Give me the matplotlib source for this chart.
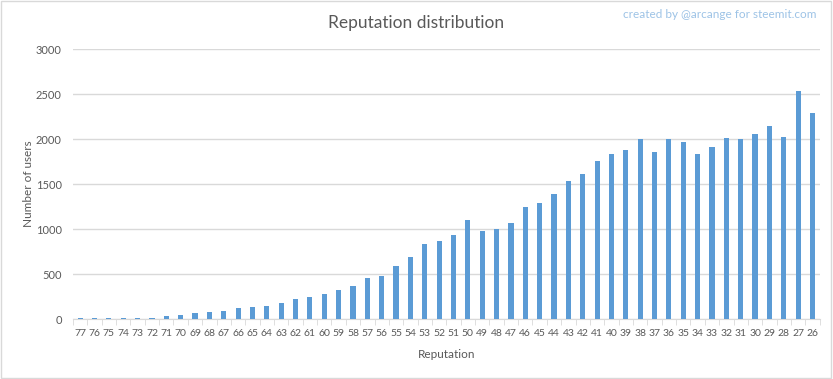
import matplotlib
matplotlib.use("Agg")
import matplotlib.pyplot as plt
from matplotlib.patches import Rectangle
from matplotlib.ticker import FixedLocator

plt.rcParams['font.family'] = ['Lato', 'DejaVu Sans']

reputation = list(range(77, 25, -1))
users = [15, 15, 15, 15, 12, 12, 33, 44, 70, 78, 89, 122, 133, 144, 178, 222,
         244, 278, 322, 367, 456, 478, 589, 689, 833, 867, 933, 1100, 978, 1000,
         1067, 1244, 1289, 1389, 1533, 1611, 1756, 1833, 1878, 2000, 1856, 2000,
         1967, 1833, 1911, 2011, 2000, 2056, 2144, 2022, 2533, 2289]
yticks = [0, 500, 1000, 1500, 2000, 2500, 3000]

fig = plt.figure(figsize=(8.33, 3.79), dpi=100)
fig.patches.append(Rectangle((0.001, 0.002), 0.997, 0.995, transform=fig.transFigure,
                             fill=False, edgecolor='#d9d9d9', lw=1))
ax = fig.add_axes([0.0876, 0.1583, 0.8964, 0.7124])

x = list(range(len(reputation)))
ax.bar(x, users, width=0.36, color='#5b9bd5', zorder=3)

ax.set_xlim(-0.5, len(reputation) - 0.5)
ax.set_ylim(0, 3000)
ax.set_yticks(yticks)
ax.set_xticks(x)
ax.set_xticklabels([str(r) for r in reputation])
ax.xaxis.set_minor_locator(FixedLocator([i - 0.5 for i in range(len(reputation) + 1)]))

ax.grid(axis='y', color='#d9d9d9', lw=1, zorder=0)
for s in ['top', 'right', 'left']:
    ax.spines[s].set_visible(False)
ax.spines['bottom'].set_color('#d9d9d9')
ax.tick_params(axis='x', which='major', length=0, pad=7, labelsize=7.5, labelcolor='#595959')
ax.tick_params(axis='x', which='minor', length=4, color='#d9d9d9')
ax.tick_params(axis='y', length=0, pad=8, labelsize=8, labelcolor='#595959')

ax.set_xlabel('Reputation', fontsize=8.5, color='#595959', labelpad=8)
ax.set_ylabel('Number of users', fontsize=8.5, color='#595959', labelpad=1)

fig.text(0.5, 0.94, 'Reputation distribution', ha='center', va='center',
         fontsize=12.5, color='#595959')
fig.text(0.98, 0.963, 'created by @arcange for steemit.com', ha='right', va='center',
         fontsize=8.5, color='#9dc3e6')

fig.savefig('out.png', dpi=100)
